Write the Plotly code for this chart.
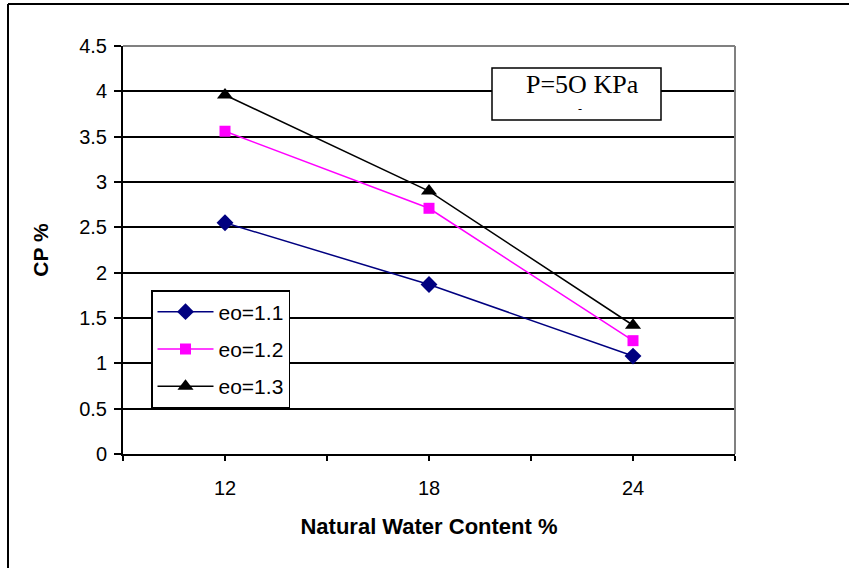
import plotly.graph_objects as go

water_content = [12, 18, 24]
cp_eo_11 = [2.55, 1.87, 1.08]
cp_eo_12 = [3.56, 2.71, 1.25]
cp_eo_13 = [3.96, 2.90, 1.42]
series_names = ["eo=1.1", "eo=1.2", "eo=1.3"]
x_tick_vals = [9, 12, 15, 18, 21, 24, 27]
x_tick_text = ["", "12", "", "18", "", "24", ""]
y_tick_vals = [0, 0.5, 1, 1.5, 2, 2.5, 3, 3.5, 4, 4.5]
y_tick_text = ["0", "0.5", "1", "1.5", "2", "2.5", "3", "3.5", "4", "4.5"]

FONT = "Arial, Liberation Sans, sans-serif"
SERIF = "Times New Roman, Liberation Serif, serif"

fig = go.Figure()
styles = [
    dict(color="#000080", symbol="diamond", size=13),
    dict(color="#FF00FF", symbol="square", size=11),
    dict(color="#000000", symbol="triangle-up", size=14),
]
for i, (name, vals, st) in enumerate(zip(series_names, [cp_eo_11, cp_eo_12, cp_eo_13], styles)):
    fig.add_trace(go.Scatter(
        x=water_content, y=vals, name=name, mode="lines+markers",
        legendgroup=f"g{i}",
        line=dict(color=st["color"], width=1.5),
        marker=dict(color=st["color"], symbol=st["symbol"], size=st["size"]),
    ))

# plot area in pixels: x 123..735, y 46..454
L, R, T, B = 123, 735, 46, 454
W, H = R - L, B - T

shapes = [
    dict(type="line", xref="paper", yref="paper", x0=0, x1=1, y0=1, y1=1,
         line=dict(color="#808080", width=2), layer="above"),
    dict(type="line", xref="paper", yref="paper", x0=1, x1=1, y0=0, y1=1,
         line=dict(color="#808080", width=2), layer="above"),
    dict(type="line", xref="paper", yref="paper",
         x0=(8 - L) / W, x1=(8 - L) / W, y0=(B - 4) / H, y1=(B - 570) / H,
         line=dict(color="#000000", width=2)),
    dict(type="line", xref="paper", yref="paper",
         x0=(8 - L) / W, x1=(852 - L) / W, y0=(B - 4) / H, y1=(B - 4) / H,
         line=dict(color="#000000", width=2)),
    dict(type="rect", xref="paper", yref="paper",
         x0=(492 - L) / W, x1=(661 - L) / W, y0=(B - 120) / H, y1=(B - 68) / H,
         line=dict(color="#000000", width=1.5), fillcolor="white", layer="above"),
]

annotations = [
    dict(text="P=5O KPa", xref="paper", yref="paper",
         x=(582 - L) / W, y=(B - 84) / H, showarrow=False,
         font=dict(family=SERIF, size=26, color="black"), xanchor="center", yanchor="middle"),
    dict(text="-", xref="paper", yref="paper",
         x=(580 - L) / W, y=(B - 109) / H, showarrow=False,
         font=dict(family=SERIF, size=12, color="black"), xanchor="center", yanchor="middle"),
]

fig.update_layout(
    width=849, height=568,
    margin=dict(l=L, r=849 - R, t=T, b=568 - B),
    paper_bgcolor="white", plot_bgcolor="white",
    font=dict(family=FONT, size=20, color="black"),
    showlegend=True,
    legend=dict(
        x=(151 - L) / W, y=(B - 290) / H, xanchor="left", yanchor="top",
        bordercolor="black", borderwidth=1.5, bgcolor="white",
        font=dict(family=FONT, size=21, color="black"),
        itemwidth=56, tracegroupgap=7,
    ),
    shapes=shapes,
    annotations=annotations,
    xaxis=dict(
        range=[9, 27], tickmode="array", tickvals=x_tick_vals, ticktext=x_tick_text,
        showgrid=False, zeroline=False, showline=True, linecolor="black", linewidth=2,
        ticks="outside", ticklen=5, tickwidth=1.5, tickcolor="black",
        ticklabelstandoff=10,
        tickfont=dict(family=FONT, size=20),
        title=dict(text="<b>Natural Water Content %</b>", font=dict(family=FONT, size=22), standoff=21),
    ),
    yaxis=dict(
        range=[0, 4.5], tickmode="array", tickvals=y_tick_vals, ticktext=y_tick_text,
        showgrid=True, gridcolor="black", gridwidth=1.5, zeroline=False,
        showline=True, linecolor="black", linewidth=2,
        ticks="outside", ticklen=7, tickwidth=1.5, tickcolor="black",
        ticklabelstandoff=3,
        tickfont=dict(family=FONT, size=20),
        title=dict(text="<b>CP %</b>", font=dict(family=FONT, size=21), standoff=25),
    ),
)

fig.write_html("out.html")
